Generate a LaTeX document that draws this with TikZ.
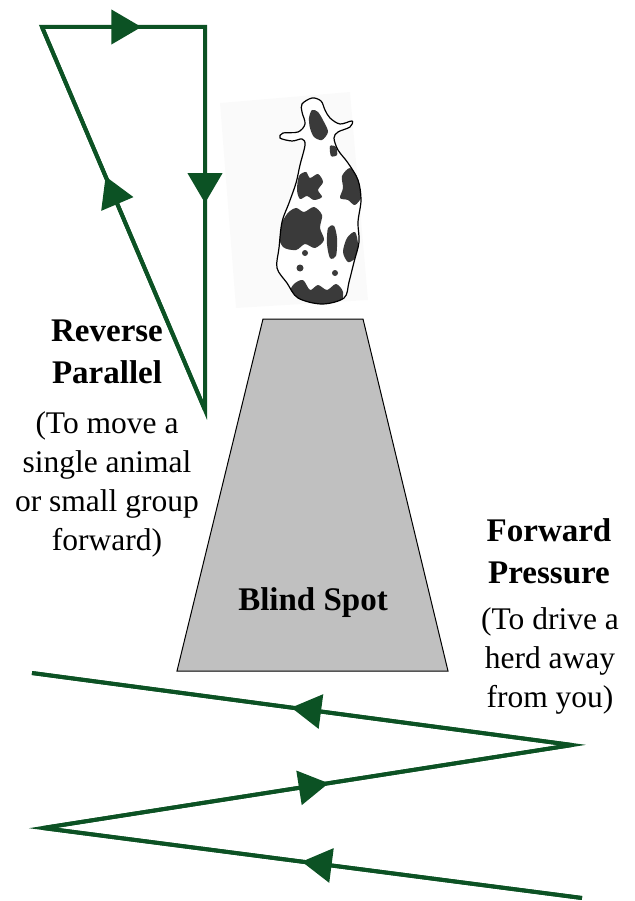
\documentclass[tikz,border=0pt]{standalone}
\usepackage{fontspec}
\setmainfont{Liberation Serif}
\usetikzlibrary{arrows.meta,decorations.markings}
\definecolor{path}{RGB}{12,82,36}
\definecolor{spot}{RGB}{58,58,58}
\definecolor{zone}{RGB}{192,192,192}
\definecolor{haze}{RGB}{250,250,250}
\tikzset{
  walk/.style={draw=path,line width=4pt,line join=miter},
  midtip/.style={postaction={decorate},decoration={markings,
      mark=at position #1 with {\arrow{Triangle[length=30pt,width=34pt]}}}},
  boldlabel/.style={font=\fontsize{33}{42}\selectfont\bfseries,align=center,inner sep=0pt},
  notelabel/.style={font=\fontsize{31.5}{39}\selectfont,align=center,inner sep=0pt},
}
\begin{document}
\begin{tikzpicture}[x=1pt,y=-1pt]
\useasboundingbox (0,0) rectangle (634,901);

% pale backdrop behind the cow
\fill[haze] (220,103) -- (350,92) -- (368,300) -- (236,308) -- cycle;

% blind spot zone
\fill[zone,draw=black,line width=1pt] (263,319) -- (363,319) -- (448,671) -- (177,671) -- cycle;
\node[boldlabel] (blind) at (313,603) {Blind Spot};

% cow seen from above
\def\cowoutline{plot[smooth cycle,tension=0.55] coordinates {
  (302,104) (312,98) (321,101) (325,110) (330,118) (340,124) (352,121) (350,127)
  (338,132) (334,138) (338,150) (348,163) (358,180) (361,200) (358,222) (359,242)
  (354,262) (349,282) (344,298) (322,304) (298,298) (287,283) (277,268) (279,248)
  (282,222) (289,203) (296,183) (300,165) (305,145) (302,139) (292,141) (280,138)
  (283,133) (298,132) (305,124) (302,112)}}
\fill[white] \cowoutline;
\begin{scope}
  \clip \cowoutline;
  \fill[spot] plot[smooth cycle] coordinates {(312,110) (318,112) (324,122) (328,132) (322,140) (314,137) (310,128) (309,118)};
  \fill[spot] plot[smooth cycle] coordinates {(330,146) (336,147) (337,155) (331,156)};
  \fill[spot] plot[smooth cycle] coordinates {(299,176) (306,172) (310,178) (318,174) (323,182) (318,190) (322,197) (314,200) (307,196) (300,199) (297,190)};
  \fill[spot] plot[smooth cycle] coordinates {(342,176) (350,168) (357,178) (362,195) (355,205) (348,200) (340,198) (343,188)};
  \fill[spot] plot[smooth cycle] coordinates {(287,214) (296,208) (304,212) (314,207) (322,215) (320,228) (324,240) (315,248) (305,244) (296,250) (283,247) (278,232)};
  \fill[spot] plot[smooth cycle] coordinates {(328,228) (334,226) (337,238) (336,256) (330,258) (327,244)};
  \fill[spot] plot[smooth cycle] coordinates {(347,238) (355,232) (358,245) (355,258) (348,262) (343,252)};
  \fill[spot] (305,253) circle (3);
  \fill[spot] (300,268) circle (3.5);
  \fill[spot] (335,273) circle (3);
  \fill[spot] plot[smooth cycle] coordinates {(294,284) (303,280) (310,290) (318,285) (327,290) (336,284) (343,292) (340,306) (322,308) (300,304) (290,293)};
\end{scope}
\draw[black,line width=1.2pt] \cowoutline;

% reverse parallel loop
\coordinate (rp0) at (205,410);
\coordinate (rp1) at (42,27);
\coordinate (rp2) at (205,27);
\draw[walk,midtip=0.61] (rp0) -- (rp1);
\draw[walk,midtip=0.61] (rp1) -- (rp2);
\draw[walk,midtip=0.46] (rp2) -- (rp0);
\draw[walk] (rp0) -- (rp1) -- (rp2) -- cycle;

% forward pressure zig-zag
\coordinate (fp0) at (582,898);
\coordinate (fp1) at (43,828);
\coordinate (fp2) at (572,745);
\coordinate (fp3) at (32,673);
\draw[walk,midtip=0.52] (fp0) -- (fp1);
\draw[walk,midtip=0.54] (fp1) -- (fp2);
\draw[walk,midtip=0.52] (fp2) -- (fp3);
\draw[walk] (fp0) -- (fp1) -- (fp2) -- (fp3);

% labels
\node[boldlabel] (rptitle) at (107,352) {Reverse\\Parallel};
\node[notelabel] (rpnote) at (107,484) {(To move a\\single animal\\or small group\\forward)};
\node[boldlabel] (fptitle) at (549,551) {Forward\\Pressure};
\node[notelabel] (fpnote) at (550,661) {(To drive a\\herd away\\from you)};
\end{tikzpicture}
\end{document}
